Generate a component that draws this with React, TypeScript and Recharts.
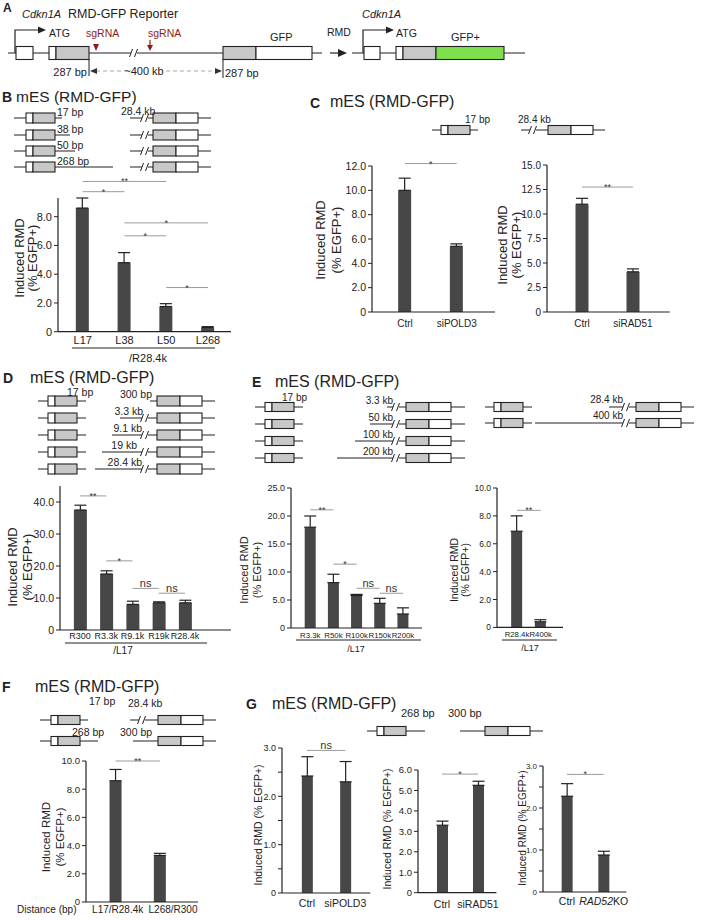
import React from 'react'
import { BarChart, Bar, XAxis, YAxis, ErrorBar, ReferenceLine } from 'recharts'

// ---------- data ----------
const bNames = ['L17', 'L38', 'L50', 'L268']
const bValues = [8.6, 4.8, 1.75, 0.3]
const bErrors = [0.7, 0.7, 0.2, 0.05]

const c1Names = ['Ctrl', 'siPOLD3']
const c1Values = [10.0, 5.4]
const c1Errors = [1.0, 0.2]

const c2Names = ['Ctrl', 'siRAD51']
const c2Values = [11.0, 4.1]
const c2Errors = [0.6, 0.3]

const dNames = ['R300', 'R3.3k', 'R9.1k', 'R19k', 'R28.4k']
const dValues = [37.5, 17.5, 8.0, 8.5, 8.5]
const dErrors = [1.5, 1.0, 1.0, 0.3, 0.8]

const e1Names = ['R3.3k', 'R50k', 'R100k', 'R150k', 'R200k']
const e1Values = [18.0, 8.1, 5.8, 4.4, 2.5]
const e1Errors = [2.0, 1.5, 0.2, 0.9, 1.1]

const e2Names = ['R28.4k', 'R400k']
const e2Values = [6.9, 0.4]
const e2Errors = [1.1, 0.15]

const fNames = ['L17/R28.4k', 'L268/R300']
const fValues = [8.6, 3.3]
const fErrors = [0.8, 0.15]

const g1Names = ['Ctrl', 'siPOLD3']
const g1Values = [2.42, 2.3]
const g1Errors = [0.4, 0.42]

const g2Names = ['Ctrl', 'siRAD51']
const g2Values = [3.3, 5.25]
const g2Errors = [0.2, 0.2]

const g3Names = ['Ctrl', 'RAD52KO']
const g3Values = [2.28, 0.88]
const g3Errors = [0.3, 0.09]

// y ticks
const bTicks = [0, 2, 4, 6, 8]
const c1Ticks = [0, 2, 4, 6, 8, 10, 12]
const c2Ticks = [0, 2.5, 5, 7.5, 10, 12.5, 15]
const dTicks = [0, 10, 20, 30, 40]
const e1Ticks = [0, 5, 10, 15, 20, 25]
const e2Ticks = [0, 2, 4, 6, 8, 10]
const fTicks = [0, 2, 4, 6, 8, 10]
const g1Ticks = [0, 0.5, 1, 1.5, 2, 2.5, 3]
const g2Ticks = [0, 1, 2, 3, 4, 5, 6]
const g3Ticks = [0, 0.5, 1, 1.5, 2, 2.5, 3]

// significance marks: [from, to, height, mark]
type Sig = [string, string, number, string]
const bSig: Sig[] = [
  ['L17', 'L50', 10.45, '**'],
  ['L17', 'L38', 9.74, '*'],
  ['L38', 'L268', 7.57, '*'],
  ['L38', 'L50', 6.67, '*'],
  ['L50', 'L268', 3.07, '*'],
]
const c1Sig: Sig[] = [['Ctrl', 'siPOLD3', 12.2, '*']]
const c2Sig: Sig[] = [['Ctrl', 'siRAD51', 12.75, '**']]
const dSig: Sig[] = [
  ['R300', 'R3.3k', 41.9, '**'],
  ['R3.3k', 'R9.1k', 21.6, '*'],
  ['R9.1k', 'R19k', 13.0, 'ns'],
  ['R19k', 'R28.4k', 11.5, 'ns'],
]
const e1Sig: Sig[] = [
  ['R3.3k', 'R50k', 21.1, '**'],
  ['R50k', 'R100k', 11.4, '*'],
  ['R100k', 'R150k', 7.1, 'ns'],
  ['R150k', 'R200k', 6.2, 'ns'],
]
const e2Sig: Sig[] = [['R28.4k', 'R400k', 8.4, '**']]
const fSig: Sig[] = [['L17/R28.4k', 'L268/R300', 10.0, '**']]
const g1Sig: Sig[] = [['Ctrl', 'siPOLD3', 2.95, 'ns']]
const g2Sig: Sig[] = [['Ctrl', 'siRAD51', 5.8, '*']]
const g3Sig: Sig[] = [['Ctrl', 'RAD52KO', 2.8, '*']]

const INK = '#222'
const BAR = '#474747'
const FONT = '"Liberation Sans", Arial, Helvetica, sans-serif'

function CatTick(props: any) {
  const { x, y, payload, font, shift } = props
  const v = String(payload.value)
  const dx = shift ? shift[payload.index] || 0 : 0
  return (
    <text x={x + dx} y={y} dy="0.71em" textAnchor="middle" fontSize={font} fill={INK}>
      {v === 'RAD52KO' ? (
        <>
          <tspan fontStyle="italic">RAD52</tspan>KO
        </>
      ) : v}
    </text>
  )
}

interface MiniProps {
  names: string[]
  values: number[]
  errors: number[]
  ax: number
  axEnd: number
  yTop: number
  yZero: number
  c0: number
  cN: number
  max: number
  ticks: number[]
  barSize: number
  tickFont: number
  catFont: number
  catGap: number
  catShift?: number[]
  sig: Sig[]
}

function MiniBars(p: MiniProps) {
  const W = 40
  const MT = 30
  const MR = 10
  const XH = 30
  const n = p.names.length
  const band = (p.cN - p.c0) / (n - 1)
  const padL = p.c0 - band / 2 - p.ax
  const padR = p.axEnd - (p.cN + band / 2)
  const data = p.names.map((name, i) => ({ name, value: p.values[i], err: [0, p.errors[i]] }))
  const fmt = (v: number) => (v === 0 ? '0' : v % 1 !== 0 && p.ticks.includes(0.5) ? '' : v.toFixed(1))

  return (
    <div style={{ position: 'absolute', left: p.ax - W, top: p.yTop - MT }}>
      <BarChart
        width={W + p.axEnd - p.ax + MR}
        height={MT + p.yZero - p.yTop + XH}
        data={data}
        margin={{ top: MT, right: MR, left: 0, bottom: 0 }}
      >
        <XAxis
          dataKey="name"
          interval={0}
          height={XH}
          tickLine={false}
          tickSize={0}
          tickMargin={p.catGap}
          padding={{ left: padL, right: padR }}
          axisLine={{ stroke: INK, strokeWidth: 1.2 }}
          tick={(tp: any) => <CatTick {...tp} font={p.catFont} shift={p.catShift} />}
        />
        <YAxis
          width={W}
          type="number"
          domain={[0, p.max]}
          ticks={p.ticks}
          allowDataOverflow
          tickFormatter={fmt}
          tickSize={4}
          tickMargin={2}
          tick={{ fontSize: p.tickFont, fill: INK }}
          tickLine={{ stroke: INK }}
          axisLine={{ stroke: INK, strokeWidth: 1.2 }}
        />
        <Bar dataKey="value" fill={BAR} barSize={p.barSize} isAnimationActive={false}>
          <ErrorBar dataKey="err" width={6} stroke={INK} strokeWidth={1.2} isAnimationActive={false} />
        </Bar>
        {p.sig.map(([a, b, h, mark], i) => (
          <ReferenceLine
            key={i}
            segment={[{ x: a, y: h }, { x: b, y: h }]}
            stroke="#9a9a9a"
            strokeWidth={1}
            ifOverflow="visible"
            label={{
              value: mark,
              position: 'top',
              fontSize: mark === 'ns' ? 11 : 9,
              fill: '#333',
              offset: mark === 'ns' ? 1 : -3,
            }}
          />
        ))}
      </BarChart>
    </div>
  )
}

// ---------- schematic helpers ----------
function Seg({ x1, x2, y }: { x1: number; x2: number; y: number }) {
  return <line x1={x1} x2={x2} y1={y} y2={y} stroke={INK} strokeWidth={1.2} />
}
function Rect({ x, w, y, h, fill }: { x: number; w: number; y: number; h: number; fill: string }) {
  return <rect x={x} y={y - h / 2} width={w} height={h} fill={fill} stroke={INK} strokeWidth={1.1} />
}
function Brk({ x, y }: { x: number; y: number }) {
  return (
    <g>
      <rect x={x - 3} y={y - 2} width={6} height={4} fill="#fff" />
      <line x1={x - 4.5} y1={y + 4} x2={x - 1.5} y2={y - 4} stroke={INK} strokeWidth={1} />
      <line x1={x + 0.5} y1={y + 4} x2={x + 3.5} y2={y - 4} stroke={INK} strokeWidth={1} />
    </g>
  )
}
function LeftC({ x, y, h = 10 }: { x: number; y: number; h?: number }) {
  return (
    <g>
      <Rect x={x} w={7} y={y} h={h} fill="#fff" />
      <Rect x={x + 7} w={22} y={y} h={h} fill="#c8c8c8" />
    </g>
  )
}
function RightC({ x, y, h = 10 }: { x: number; y: number; h?: number }) {
  return (
    <g>
      <Rect x={x} w={23} y={y} h={h} fill="#c8c8c8" />
      <Rect x={x + 23} w={22} y={y} h={h} fill="#fff" />
    </g>
  )
}
function T(props: any) {
  const { s = 10, children, ...rest } = props
  return (
    <text fontSize={s} fill={INK} {...rest}>
      {children}
    </text>
  )
}
function YLab({ x, y, lines, s }: { x: number[]; y: number; lines: string[]; s: number }) {
  return (
    <g>
      {lines.map((l, i) => (
        <text
          key={i}
          transform={`translate(${x[i]},${y}) rotate(-90)`}
          textAnchor="middle"
          dominantBaseline="central"
          fontSize={s}
          fill={INK}
        >
          {l}
        </text>
      ))}
    </g>
  )
}

function Overlay() {
  const bRows = [118, 135, 151, 167]
  const bTails = [62, 70, 75, 113]
  const bLabels = ['17 bp', '38 bp', '50 bp', '268 bp']
  const dRows = [401, 418, 435, 452, 469]
  const dStarts = [150, 120, 112, 102, 95]
  const dLabels = ['300 bp', '3.3 kb', '9.1 kb', '19 kb', '28.4 kb']
  const dEnds = [152, 143, 142, 137, 142]
  const eRows = [407, 424, 441, 458]
  const eStarts = [387, 370, 355, 337]
  const eLabels = ['3.3 kb', '50 kb', '100 kb', '200 kb']
  const red = '#8e1b1b'
  return (
    <svg
      width={709}
      height={922}
      style={{ position: 'absolute', left: 0, top: 0, pointerEvents: 'none', fontFamily: FONT }}
    >
      {/* ---- A ---- */}
      <T x={3} y={12} s={12} fontWeight="bold">A</T>
      <T x={22} y={18} s={11} fontStyle="italic">Cdkn1A</T>
      <T x={68} y={18} s={12.5}>RMD-GFP Reporter</T>
      <Seg x1={8} x2={322} y={53} />
      <path d="M15 53 V30 H39" fill="none" stroke={INK} strokeWidth={1.2} />
      <polygon points="38,26.5 46,30 38,33.5" fill={INK} />
      <Rect x={16} w={17} y={53} h={13} fill="#fff" />
      <T x={49} y={37} s={10.5}>ATG</T>
      <Rect x={49} w={7} y={53} h={13} fill="#fff" />
      <Rect x={56} w={33} y={53} h={13} fill="#c8c8c8" />
      <T x={86} y={37} s={10.5} fill={red}>sgRNA</T>
      <polygon points="93,44 99,44 96,51" fill={red} />
      <T x={148} y={37} s={10.5} fill={red}>sgRNA</T>
      <line x1={150} y1={40} x2={150} y2={46} stroke={red} strokeWidth={1.2} />
      <polygon points="147,45 153,45 150,51" fill={red} />
      <Brk x={134} y={53} />
      <Rect x={223} w={33} y={53} h={13} fill="#c8c8c8" />
      <Rect x={256} w={56} y={53} h={13} fill="#fff" />
      <T x={270} y={41} s={11}>GFP</T>
      <line x1={89} y1={59} x2={89} y2={76} stroke={INK} strokeWidth={1} />
      <line x1={223} y1={59} x2={223} y2={78} stroke={INK} strokeWidth={1} />
      <line x1={96} y1={71} x2={216} y2={71} stroke="#aaa" strokeWidth={1} strokeDasharray="4 3" />
      <polygon points="90,71 97,68 97,74" fill="#333" />
      <polygon points="222,71 215,68 215,74" fill="#333" />
      <rect x={127} y={65} width={35} height={12} fill="#fff" />
      <T x={144} y={75} s={11} textAnchor="middle">~400 kb</T>
      <T x={87} y={76} s={11} textAnchor="end">287 bp</T>
      <T x={225} y={77} s={11}>287 bp</T>
      <T x={327} y={36} s={10.5}>RMD</T>
      <line x1={330} y1={53} x2={340} y2={53} stroke={INK} strokeWidth={1.2} />
      <polygon points="338,49 347,53 338,57" fill={INK} />
      <Seg x1={352} x2={525} y={53} />
      <T x={362} y={18} s={11} fontStyle="italic">Cdkn1A</T>
      <path d="M363 53 V30 H387" fill="none" stroke={INK} strokeWidth={1.2} />
      <polygon points="386,26.5 394,30 386,33.5" fill={INK} />
      <Rect x={364} w={16} y={53} h={13} fill="#fff" />
      <T x={396} y={37} s={10.5}>ATG</T>
      <Rect x={396} w={7} y={53} h={13} fill="#fff" />
      <Rect x={403} w={33} y={53} h={13} fill="#c8c8c8" />
      <Rect x={436} w={68} y={53} h={13} fill="#7fe04e" />
      <T x={451} y={41} s={11}>GFP+</T>

      {/* ---- B ---- */}
      <T x={2} y={102} s={14} fontWeight="bold">B</T>
      <T x={16} y={102} s={15.5}>mES (RMD-GFP)</T>
      {bRows.map((y, i) => (
        <g key={i}>
          <Seg x1={14} x2={bTails[i]} y={y} />
          <LeftC x={26} y={y} />
          <T x={57} y={y - 2} s={10.5}>{bLabels[i]}</T>
          <Seg x1={130} x2={211} y={y} />
          <Brk x={145} y={y} />
          <RightC x={153} y={y} />
        </g>
      ))}
      <T x={121} y={115} s={10.5}>28.4 kb</T>
      <YLab x={[19, 32]} y={258} lines={['Induced RMD', '(% EGFP+)']} s={13} />
      <line x1={72} x2={215} y1={348} y2={348} stroke={INK} strokeWidth={1} />
      <T x={148} y={362} s={11} textAnchor="middle">/R28.4k</T>

      {/* ---- C ---- */}
      <T x={310} y={108} s={14} fontWeight="bold">C</T>
      <T x={330} y={107} s={16}>mES (RMD-GFP)</T>
      <Seg x1={432} x2={478} y={130} />
      <LeftC x={441} y={130} h={9} />
      <T x={465} y={123} s={10}>17 bp</T>
      <Seg x1={521} x2={605} y={130} />
      <Brk x={533} y={130} />
      <RightC x={548} y={130} h={9} />
      <T x={518} y={123} s={10}>28.4 kb</T>
      <YLab x={[320, 336]} y={240} lines={['Induced RMD', '(% EGFP+)']} s={13} />
      <YLab x={[502, 516]} y={245} lines={['Induced RMD', '(% EGFP+)']} s={13} />

      {/* ---- D ---- */}
      <T x={3} y={383} s={14} fontWeight="bold">D</T>
      <T x={30} y={383} s={16}>mES (RMD-GFP)</T>
      {dRows.map((y, i) => (
        <g key={i}>
          <Seg x1={38} x2={86} y={y} />
          <LeftC x={48} y={y} />
          <Seg x1={dStarts[i]} x2={215} y={y} />
          {i > 0 && <Brk x={145} y={y} />}
          <RightC x={157} y={y} />
          <T x={dEnds[i]} y={y - 3} s={10.5} textAnchor="end">{dLabels[i]}</T>
        </g>
      ))}
      <T x={67} y={396} s={10.5}>17 bp</T>
      <YLab x={[12, 27]} y={567} lines={['Induced RMD', '(% EGFP+)']} s={13} />
      <line x1={65} x2={207} y1={643} y2={643} stroke={INK} strokeWidth={1} />
      <T x={123} y={654} s={10} textAnchor="middle">/L17</T>

      {/* ---- E ---- */}
      <T x={252} y={387} s={14} fontWeight="bold">E</T>
      <T x={275} y={387} s={16}>mES (RMD-GFP)</T>
      {eRows.map((y, i) => (
        <g key={i}>
          <Seg x1={255} x2={303} y={y} />
          <LeftC x={265} y={y} h={9} />
          <Seg x1={eStarts[i]} x2={465} y={y} />
          <Brk x={396} y={y} />
          <RightC x={406} y={y} h={9} />
          <T x={393} y={y - 3} s={10} textAnchor="end">{eLabels[i]}</T>
        </g>
      ))}
      <T x={282} y={401} s={10}>17 bp</T>
      <Seg x1={485} x2={532} y={407} />
      <LeftC x={494} y={407} h={9} />
      <Seg x1={609} x2={694} y={407} />
      <Brk x={626} y={407} />
      <RightC x={636} y={407} h={9} />
      <T x={623} y={403} s={10} textAnchor="end">28.4 kb</T>
      <Seg x1={485} x2={532} y={423} />
      <LeftC x={494} y={423} h={9} />
      <Seg x1={535} x2={694} y={423} />
      <Brk x={626} y={423} />
      <RightC x={636} y={423} h={9} />
      <T x={623} y={419} s={10} textAnchor="end">400 kb</T>
      <YLab x={[244, 257]} y={570} lines={['Induced RMD', '(% EGFP+)']} s={11} />
      <YLab x={[454, 465]} y={570} lines={['Induced RMD', '(% EGFP+)']} s={10.5} />
      <line x1={296} x2={421} y1={640} y2={640} stroke={INK} strokeWidth={1} />
      <T x={356} y={652} s={9} textAnchor="middle">/L17</T>
      <line x1={502} x2={557} y1={640} y2={640} stroke={INK} strokeWidth={1} />
      <T x={530} y={651} s={9} textAnchor="middle">/L17</T>

      {/* ---- F ---- */}
      <T x={2} y={692} s={14} fontWeight="bold">F</T>
      <T x={35} y={692} s={16}>mES (RMD-GFP)</T>
      <Seg x1={40} x2={88} y={720} />
      <LeftC x={51} y={720} h={9} />
      <T x={89} y={705} s={10.5}>17 bp</T>
      <Seg x1={40} x2={98} y={741} />
      <LeftC x={51} y={741} h={9} />
      <T x={72} y={736} s={10.5}>268 bp</T>
      <Seg x1={130} x2={216} y={720} />
      <Brk x={142} y={720} />
      <RightC x={158} y={720} h={9} />
      <T x={128} y={707} s={10.5}>28.4 kb</T>
      <Seg x1={133} x2={216} y={741} />
      <RightC x={158} y={741} h={9} />
      <T x={120} y={736} s={10.5}>300 bp</T>
      <YLab x={[46, 60]} y={837} lines={['Induced RMD', '(% EGFP+)']} s={11.5} />
      <T x={17} y={913} s={10}>Distance (bp)</T>

      {/* ---- G ---- */}
      <T x={246} y={709} s={14} fontWeight="bold">G</T>
      <T x={272} y={709} s={16}>mES (RMD-GFP)</T>
      <Seg x1={367} x2={425} y={731} />
      <LeftC x={377} y={731} h={9} />
      <Seg x1={460} x2={543} y={731} />
      <RightC x={485} y={731} h={9} />
      <T x={401} y={717} s={11}>268 bp</T>
      <T x={448} y={717} s={11}>300 bp</T>
      <YLab x={[258]} y={825} lines={['Induced RMD (% EGFP+)']} s={10.5} />
      <YLab x={[387]} y={829} lines={['Induced RMD (% EGFP+)']} s={10.5} />
      <YLab x={[522]} y={828} lines={['Induced RMD (% EGFP+)']} s={10} />
    </svg>
  )
}

export default function App() {
  return (
    <div
      style={{
        position: 'absolute',
        left: 0,
        top: 0,
        width: 709,
        height: 922,
        background: '#fff',
        fontFamily: FONT,
        overflow: 'hidden',
      }}
    >
      <MiniBars names={bNames} values={bValues} errors={bErrors} ax={58} axEnd={231} yTop={198} yZero={331.7}
        c0={82.7} cN={208} max={9.3} ticks={bTicks} barSize={13} tickFont={11} catFont={11} catGap={4.5} sig={bSig} />
      <MiniBars names={c1Names} values={c1Values} errors={c1Errors} ax={372} axEnd={495} yTop={166} yZero={312}
        c0={405} cN={456.7} max={12} ticks={c1Ticks} barSize={13} tickFont={10.5} catFont={10} catGap={7.5} sig={c1Sig} />
      <MiniBars names={c2Names} values={c2Values} errors={c2Errors} ax={547.3} axEnd={670} yTop={165} yZero={312}
        c0={582.3} cN={633.3} max={15} ticks={c2Ticks} barSize={13} tickFont={10} catFont={10} catGap={7.5} sig={c2Sig} />
      <MiniBars names={dNames} values={dValues} errors={dErrors} ax={60} axEnd={231} yTop={486} yZero={630}
        c0={80} cN={185} max={45} ticks={dTicks} barSize={13} tickFont={10.5} catFont={9} catGap={2.5} sig={dSig} />
      <MiniBars names={e1Names} values={e1Values} errors={e1Errors} ax={290.7} axEnd={421.7} yTop={488} yZero={628}
        c0={310} cN={402.7} max={25} ticks={e1Ticks} barSize={11} tickFont={9} catFont={7.8} catGap={4} sig={e1Sig} />
      <MiniBars names={e2Names} values={e2Values} errors={e2Errors} ax={497.3} axEnd={563.3} yTop={488.3} yZero={627.7}
        c0={517.3} cN={541} max={10} ticks={e2Ticks} barSize={11} tickFont={8.5} catFont={7.8} catGap={3.6} sig={e2Sig} />
      <MiniBars names={fNames} values={fValues} errors={fErrors} ax={86} axEnd={198} yTop={760.7} yZero={901.7}
        c0={115.7} cN={160} max={10} ticks={fTicks} barSize={12} tickFont={9.5} catFont={10} catGap={3.5}
        catShift={[2, 13]} sig={fSig} />
      <MiniBars names={g1Names} values={g1Values} errors={g1Errors} ax={281.7} axEnd={370} yTop={748} yZero={893}
        c0={306.7} cN={345} max={3} ticks={g1Ticks} barSize={11} tickFont={9} catFont={10.5} catGap={7} sig={g1Sig} />
      <MiniBars names={g2Names} values={g2Values} errors={g2Errors} ax={418.3} axEnd={496.7} yTop={770} yZero={892.7}
        c0={442.3} cN={478.3} max={6} ticks={g2Ticks} barSize={11} tickFont={9.5} catFont={10.5} catGap={7.5} sig={g2Sig} />
      <MiniBars names={g3Names} values={g3Values} errors={g3Errors} ax={543.3} axEnd={626.7} yTop={765.7} yZero={891.7}
        c0={567.3} cN={604} max={3} ticks={g3Ticks} barSize={11} tickFont={8} catFont={10.5} catGap={5.5} sig={g3Sig} />
      <Overlay />
    </div>
  )
}
